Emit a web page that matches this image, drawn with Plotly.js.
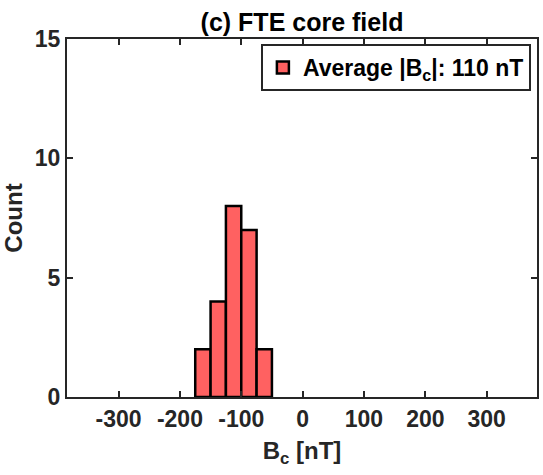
<!DOCTYPE html>
<html>
<head>
<meta charset="utf-8">
<script src="https://cdn.plot.ly/plotly-3.0.1.min.js"></script>
<style>html,body{margin:0;padding:0;background:#fff;}#chart{width:543px;height:475px;}</style>
</head>
<body>
<div id="chart"></div>
<script>
const binCenters = [-162.5, -137.5, -112.5, -87.5, -62.5];
const counts = [2, 4, 8, 7, 2];
const binWidth = 25;
const xTicks = [-300, -200, -100, 0, 100, 200, 300];
const yTicks = [0, 5, 10, 15];
const legendLabel = "Average |B<sub>c</sub>|: 110 nT";

const FONT = "Liberation Sans, Arial, Helvetica, sans-serif";
const trace = {
  type: "bar",
  x: binCenters,
  y: counts,
  width: binCenters.map(() => binWidth),
  name: "<b>" + legendLabel + "</b>",
  marker: { color: "rgb(255,97,97)", line: { color: "#000", width: 2.5 } },
  showlegend: true
};
const axisCommon = {
  showgrid: false, zeroline: false, showline: true, linecolor: "#262626", linewidth: 2,
  mirror: "ticks", ticks: "inside", ticklen: 6, tickwidth: 2, tickcolor: "#262626",
  tickfont: { family: FONT, size: 23, color: "#262626", weight: "bold" }
};
const layout = {
  width: 543, height: 475,
  margin: { l: 67, r: 6, t: 39, b: 78 },
  paper_bgcolor: "#fff", plot_bgcolor: "#fff",
  font: { family: FONT, color: "#262626" },
  title: { text: "<b>(c) FTE core field</b>", font: { family: FONT, size: 25, color: "#000" }, xref: "paper", x: 0.5, xanchor: "center", yref: "container", y: 0.953, yanchor: "middle" },
  xaxis: Object.assign({}, axisCommon, {
    range: [-384, 382], tickvals: xTicks, ticktext: xTicks.map(String),
    title: { text: "<b>B<sub>c</sub> [nT]</b>", font: { family: FONT, size: 24, color: "#262626" }, standoff: 12 }
  }),
  yaxis: Object.assign({}, axisCommon, {
    range: [0, 15], tickvals: yTicks, ticktext: yTicks.map(String),
    title: { text: "<b>Count</b>", font: { family: FONT, size: 24, color: "#262626" }, standoff: 8 }
  }),
  showlegend: true,
  legend: {
    x: 0.987, y: 0.986, xanchor: "right", yanchor: "top",
    bgcolor: "#fff", bordercolor: "#262626", borderwidth: 2,
    font: { family: FONT, size: 23, color: "#000" },
    itemwidth: 30, tracegroupgap: 0
  },
  bargap: 0
};
Plotly.newPlot("chart", [trace], layout, { displayModeBar: false, staticPlot: true });
</script>
</body>
</html>
